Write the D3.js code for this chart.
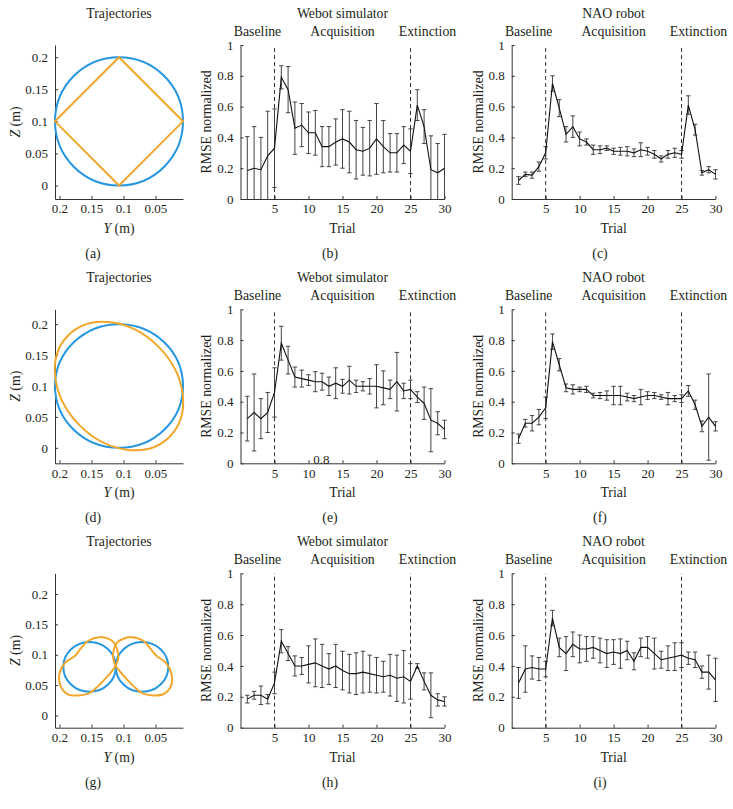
<!DOCTYPE html>
<html>
<head>
<meta charset="utf-8">
<script src="https://cdn.jsdelivr.net/npm/d3@7"></script>
<style>
  body { margin: 0; background: #fff; }
  svg text { font-family: "Liberation Serif", "DejaVu Serif", serif; fill: #231f20; }
</style>
</head>
<body>
<svg id="fig" width="733" height="809"></svg>
<script>
"use strict";

// ---- shared axis data ----
const trials = [1,2,3,4,5,6,7,8,9,10,11,12,13,14,15,16,17,18,19,20,21,22,23,24,25,26,27,28,29,30];
const phaseNames = ["Baseline", "Acquisition", "Extinction"];
const phaseCenters = [2.5, 15, 27.5];
const phaseBounds = [5, 25];
const rmseTicks = [0, 0.2, 0.4, 0.6, 0.8, 1];
const trialTicks = [5, 10, 15, 20, 25, 30];
const zTicks = [0, 0.05, 0.1, 0.15, 0.2];
const yTicks = [0.2, 0.15, 0.1, 0.05];

// ---- RMSE (mean / sd) ----
// circle -> diamond
const webotCircleMean = [0.185,0.20,0.19,0.28,0.33,0.79,0.71,0.46,0.48,0.43,0.43,0.34,0.34,0.37,0.39,0.37,0.32,0.31,0.33,0.39,0.34,0.30,0.30,0.35,0.31,0.61,0.47,0.19,0.17,0.20];
const webotCircleSd   = [0.22,0.27,0.21,0.29,0.255,0.075,0.15,0.17,0.14,0.135,0.145,0.13,0.13,0.15,0.19,0.20,0.19,0.155,0.18,0.23,0.17,0.125,0.125,0.12,0.145,0.10,0.11,0.22,0.19,0.22];
const naoCircleMean = [0.12,0.16,0.155,0.21,0.30,0.75,0.59,0.42,0.47,0.39,0.37,0.32,0.32,0.33,0.31,0.31,0.31,0.30,0.32,0.31,0.29,0.26,0.29,0.30,0.29,0.61,0.45,0.17,0.19,0.16];
const naoCircleSd   = [0.025,0.015,0.02,0.03,0.04,0.05,0.055,0.05,0.07,0.045,0.02,0.03,0.025,0.015,0.02,0.025,0.03,0.025,0.045,0.025,0.025,0.02,0.025,0.03,0.025,0.06,0.035,0.015,0.02,0.03];
// circle -> ellipse
const webotEllipseMean = [0.29,0.33,0.29,0.33,0.46,0.78,0.67,0.56,0.55,0.54,0.53,0.53,0.50,0.52,0.50,0.54,0.50,0.50,0.50,0.50,0.49,0.48,0.53,0.47,0.48,0.43,0.39,0.28,0.26,0.22];
const webotEllipseSd   = [0.145,0.25,0.13,0.13,0.16,0.11,0.09,0.065,0.055,0.035,0.065,0.055,0.06,0.10,0.045,0.09,0.04,0.03,0.05,0.14,0.11,0.06,0.19,0.05,0.06,0.035,0.105,0.205,0.075,0.06];
const naoEllipseMean = [0.16,0.26,0.26,0.30,0.36,0.79,0.64,0.49,0.48,0.48,0.48,0.44,0.44,0.44,0.44,0.44,0.43,0.42,0.43,0.44,0.44,0.43,0.42,0.42,0.42,0.47,0.38,0.24,0.30,0.24];
const naoEllipseSd   = [0.03,0.025,0.05,0.05,0.07,0.05,0.04,0.025,0.03,0.015,0.02,0.015,0.02,0.03,0.06,0.06,0.025,0.02,0.05,0.025,0.02,0.015,0.04,0.02,0.025,0.035,0.03,0.035,0.28,0.03];
// two circles -> figure eight
const webotEightMean = [0.185,0.21,0.21,0.185,0.29,0.56,0.48,0.40,0.40,0.41,0.42,0.40,0.38,0.40,0.37,0.35,0.35,0.36,0.35,0.34,0.33,0.34,0.32,0.33,0.30,0.40,0.30,0.21,0.18,0.17];
const webotEightSd   = [0.025,0.025,0.06,0.03,0.07,0.075,0.045,0.065,0.055,0.12,0.155,0.14,0.10,0.14,0.125,0.125,0.135,0.135,0.12,0.115,0.10,0.135,0.15,0.17,0.115,0.015,0.055,0.145,0.04,0.03];
const naoEightMean = [0.29,0.38,0.39,0.38,0.38,0.71,0.52,0.48,0.54,0.51,0.51,0.52,0.50,0.48,0.49,0.48,0.50,0.43,0.52,0.52,0.48,0.44,0.45,0.46,0.47,0.45,0.44,0.36,0.36,0.31];
const naoEightSd   = [0.10,0.15,0.075,0.075,0.05,0.05,0.06,0.11,0.08,0.09,0.08,0.07,0.08,0.09,0.08,0.095,0.06,0.055,0.06,0.07,0.10,0.055,0.08,0.09,0.08,0.04,0.05,0.04,0.11,0.14];

// ---- trajectories (metres) ----
const refCircle = [0.107, 0.1, 0.1];              // Y centre, Z centre, radius
const diamondY = [0.107, 0.007, 0.107, 0.207];
const diamondZ = [0.2, 0.1, 0, 0.1];
const ellipseShape = [0.107, 0.1, 0.112, 0.09];   // Y centre, Z centre, semi-major, semi-minor
const eightCircleY = [0.153, 0.071];
const eightCircleZ = [0.08, 0.08];
const eightCircleR = 0.041;
const eightRightY = [0.116,0.115,0.110,0.101,0.087,0.069,0.058,0.048,0.034,0.025,0.026,0.038,0.053,0.069,0.082,0.095,0.105,0.113];
const eightLeftY  = [0.108,0.110,0.115,0.123,0.137,0.155,0.167,0.176,0.191,0.200,0.198,0.187,0.171,0.155,0.142,0.129,0.119,0.112];
const eightLoopZ  = [0.094,0.109,0.120,0.126,0.129,0.123,0.110,0.098,0.087,0.069,0.048,0.035,0.033,0.036,0.046,0.060,0.072,0.083];

// ---- layout ----
const svg = d3.select("#fig");
const rows = [{top: 45, bottom: 199}, {top: 309.3, bottom: 463.3}, {top: 573.3, bottom: 727.7}];
const trajX = [55, 183];
const webotX = [240.5, 444.5];
const naoX = [511.7, 715.5];
const blue = "#2596e0", orange = "#f2a72c", ink = "#333";
const labelSize = 13.8, tickSize = 13;

function styleAxis(g) {
  g.selectAll("path, line").attr("stroke", ink).attr("stroke-width", 1);
  g.selectAll("text").attr("font-size", tickSize).attr("fill", "#231f20")
    .style("font-family", '"Liberation Serif", serif');
}

function label(g, x, y, txt) {
  return g.append("text").attr("x", x).attr("y", y).attr("dy", "0.35em")
    .attr("text-anchor", "middle").attr("font-size", labelSize).text(txt);
}

function drawTrajectory(row, zDomain, letter, drawOrange) {
  const r = rows[row];
  const x = d3.scaleLinear().domain([0.207, 0.007]).range(trajX);
  const y = d3.scaleLinear().domain(zDomain).range([r.bottom, r.top]);
  const g = svg.append("g");

  g.append("g").attr("transform", `translate(${trajX[0]},0)`)
    .call(d3.axisLeft(y).tickValues(zTicks).tickSize(-3).tickSizeOuter(0).tickPadding(7).tickFormat(d => String(d)))
    .call(styleAxis);
  g.append("g").attr("transform", `translate(0,${r.bottom})`)
    .call(d3.axisBottom(x).tickValues(yTicks).tickSize(-3).tickSizeOuter(0).tickPadding(5).tickFormat(d => String(d)))
    .call(styleAxis);

  drawOrange(g, x, y);

  const cx = (trajX[0] + trajX[1]) / 2;
  label(g, cx, r.top - 32, "Trajectories");
  const xl = label(g, cx, r.bottom + 29, null);
  xl.append("tspan").attr("font-style", "italic").text("Y");
  xl.append("tspan").text(" (m)");
  const yl = g.append("text").attr("transform", `translate(15,${(r.top + r.bottom) / 2}) rotate(-90)`)
    .attr("dy", "0.35em").attr("text-anchor", "middle").attr("font-size", labelSize);
  yl.append("tspan").attr("font-style", "italic").text("Z");
  yl.append("tspan").text(" (m)");
  label(g, 93, r.bottom + 54, letter);
}

function drawRmse(row, xr, title, mean, sd, letter, letterX) {
  const r = rows[row];
  const x = d3.scaleLinear().domain([0, 30]).range(xr);
  const y = d3.scaleLinear().domain([0, 1]).range([r.bottom, r.top]).clamp(true);
  const g = svg.append("g");

  g.append("g").attr("transform", `translate(${xr[0]},0)`)
    .call(d3.axisLeft(y).tickValues(rmseTicks).tickSize(-3).tickSizeOuter(0).tickPadding(7).tickFormat(d => String(d)))
    .call(styleAxis);
  g.append("g").attr("transform", `translate(0,${r.bottom})`)
    .call(d3.axisBottom(x).tickValues(trialTicks).tickSize(-3).tickSizeOuter(0).tickPadding(5))
    .call(styleAxis);

  // phase boundaries
  g.selectAll("line.phase").data(phaseBounds).join("line")
    .attr("x1", d => x(d)).attr("x2", d => x(d))
    .attr("y1", y(0)).attr("y2", y(1))
    .attr("stroke", ink).attr("stroke-width", 1).attr("stroke-dasharray", "4,3");

  const pts = trials.map((t, i) => ({t, m: mean[i], s: sd[i]}));

  // error bars
  const eb = g.append("g").attr("stroke", "#444").attr("stroke-width", 1);
  pts.forEach(p => {
    const lo = y(p.m - p.s), hi = y(p.m + p.s), px = x(p.t);
    eb.append("line").attr("x1", px).attr("x2", px).attr("y1", lo).attr("y2", hi);
    eb.append("line").attr("x1", px - 2.2).attr("x2", px + 2.2).attr("y1", hi).attr("y2", hi);
    if (p.m - p.s > 0) eb.append("line").attr("x1", px - 2.2).attr("x2", px + 2.2).attr("y1", lo).attr("y2", lo);
  });

  g.append("path").datum(pts)
    .attr("d", d3.line().x(p => x(p.t)).y(p => y(p.m)))
    .attr("fill", "none").attr("stroke", "#111").attr("stroke-width", 1.1);

  label(g, x(15), r.top - 32, title);
  phaseNames.forEach((d, i) => label(g, x(phaseCenters[i]), r.top - 14, d));
  label(g, x(15), r.bottom + 29, "Trial");
  g.append("text").attr("transform", `translate(${xr[0] - 34},${(r.top + r.bottom) / 2}) rotate(-90)`)
    .attr("dy", "0.35em").attr("text-anchor", "middle").attr("font-size", labelSize).text("RMSE normalized");
  label(g, letterX, r.bottom + 54, letter);
  return {g, x, y};
}

function blueCircle(g, x, y, cy, cz, rad) {
  g.append("ellipse")
    .attr("cx", x(cy)).attr("cy", y(cz))
    .attr("rx", Math.abs(x(cy + rad) - x(cy))).attr("ry", Math.abs(y(cz + rad) - y(cz)))
    .attr("fill", "none").attr("stroke", blue).attr("stroke-width", 2);
}

// (a) circle and diamond
drawTrajectory(0, [-0.021, 0.219], "(a)", (g, x, y) => {
  blueCircle(g, x, y, refCircle[0], refCircle[1], refCircle[2]);
  g.append("path").datum(diamondY.map((v, i) => [v, diamondZ[i]]))
    .attr("d", d3.line().x(d => x(d[0])).y(d => y(d[1])).curve(d3.curveLinearClosed))
    .attr("fill", "none").attr("stroke", orange).attr("stroke-width", 2);
});

// (d) circle and tilted ellipse
drawTrajectory(1, [-0.025, 0.224], "(d)", (g, x, y) => {
  blueCircle(g, x, y, refCircle[0], refCircle[1], refCircle[2]);
  const [ey, ez, ea, eb] = ellipseShape;
  g.append("ellipse")
    .attr("transform", `translate(${x(ey)},${y(ez)}) rotate(45)`)
    .attr("rx", Math.abs(x(ey + ea) - x(ey))).attr("ry", Math.abs(y(ez + eb) - y(ez)))
    .attr("fill", "none").attr("stroke", orange).attr("stroke-width", 2);
});

// (g) two circles and figure eight
drawTrajectory(2, [-0.02, 0.234], "(g)", (g, x, y) => {
  eightCircleY.forEach((cy, i) => blueCircle(g, x, y, cy, eightCircleZ[i], eightCircleR));
  const loop = d3.line().x(d => x(d[0])).y(d => y(d[1])).curve(d3.curveCatmullRomClosed);
  [eightRightY, eightLeftY].forEach(ys => {
    g.append("path").datum(ys.map((v, i) => [v, eightLoopZ[i]]))
      .attr("d", loop).attr("fill", "none").attr("stroke", orange).attr("stroke-width", 2);
  });
});

drawRmse(0, webotX, "Webot simulator", webotCircleMean, webotCircleSd, "(b)", 330);
drawRmse(0, naoX, "NAO robot", naoCircleMean, naoCircleSd, "(c)", 600);
const e = drawRmse(1, webotX, "Webot simulator", webotEllipseMean, webotEllipseSd, "(e)", 330);
drawRmse(1, naoX, "NAO robot", naoEllipseMean, naoEllipseSd, "(f)", 600);
drawRmse(2, webotX, "Webot simulator", webotEightMean, webotEightSd, "(h)", 330);
drawRmse(2, naoX, "NAO robot", naoEightMean, naoEightSd, "(i)", 600);

// stray label that sits on the (e) axis in the original figure
e.g.append("text").attr("x", e.x(11.9)).attr("y", e.y(0) + 1)
  .attr("text-anchor", "middle").attr("font-size", tickSize).text("0.8");
</script>
</body>
</html>
